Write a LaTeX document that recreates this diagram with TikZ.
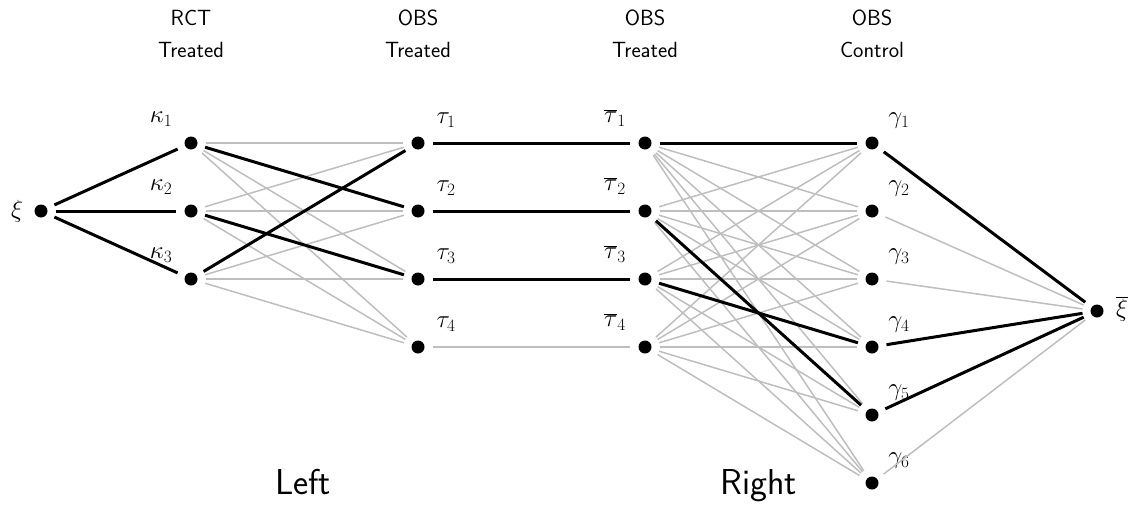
\documentclass[tikz,border=0pt]{standalone}
\begin{document}
\begin{tikzpicture}[x=1pt,y=-1pt,
  vtx/.style={circle, inner sep=0pt, minimum size=29pt,
    path picture={\fill (path picture bounding box.center) circle (6.5pt);}},
  lbl/.style={inner sep=0pt, font=\fontsize{23}{27}\selectfont},
  hdr/.style={anchor=base, inner sep=0pt, font=\sffamily\fontsize{22}{26}\selectfont},
  big/.style={anchor=base, inner sep=0pt, font=\sffamily\fontsize{36}{40}\selectfont},
  ge/.style={draw={rgb,255:red,190;green,190;blue,190}, line width=1.5pt},
  be/.style={draw=black, line width=3pt}]
\useasboundingbox (0,0) rectangle (1134,506);
% vertices
\node[vtx] (xi) at (41,211) {};
\foreach \i in {1,2,3} \node[vtx] (k\i) at (191,{143+68*(\i-1)}) {};
\foreach \i in {1,2,3,4} \node[vtx] (t\i) at (418,{143+68*(\i-1)}) {};
\foreach \i in {1,2,3,4} \node[vtx] (tb\i) at (645,{143+68*(\i-1)}) {};
\foreach \i in {1,...,6} \node[vtx] (g\i) at (872,{143+68*(\i-1)}) {};
\node[vtx] (xb) at (1097,311) {};
% labels
\node[lbl] (lxi) at ([shift={(-24,0)}]xi) {$\xi$};
\node[lbl] (lxb) at ([shift={(25,-2)}]xb) {$\overline{\xi}$};
\foreach \i in {1,2,3} \node[lbl] (lk\i) at ([shift={(-30,-24)}]k\i) {$\kappa_\i$};
\foreach \i in {1,2,3,4} \node[lbl] (lt\i) at ([shift={(28,-23)}]t\i) {$\tau_\i$};
\foreach \i in {1,2,3,4} \node[lbl] (ltb\i) at ([shift={(-30,-25)}]tb\i) {$\overline{\tau}_\i$};
\foreach \i in {1,...,6} \node[lbl] (lg\i) at ([shift={(27,-22)}]g\i) {$\gamma_\i$};
% headers
\node[hdr] (h1a) at (191,25) {RCT};
\node[hdr] (h1b) at (191,57) {Treated};
\node[hdr] (h2a) at (418,25) {OBS};
\node[hdr] (h2b) at (418,57) {Treated};
\node[hdr] (h3a) at (645,25) {OBS};
\node[hdr] (h3b) at (645,57) {Treated};
\node[hdr] (h4a) at (872,25) {OBS};
\node[hdr] (h4b) at (872,57) {Control};
\node[big] (left) at (303,494) {Left};
\node[big] (right) at (759,494) {Right};
% gray edges
\foreach \i in {1,2,3} \foreach \j in {1,2,3,4} \draw[ge] (k\i) -- (t\j);
\foreach \i in {1,2,3,4} \draw[ge] (t\i) -- (tb\i);
\foreach \i in {1,2,3,4} \foreach \j in {1,...,6} \draw[ge] (tb\i) -- (g\j);
\foreach \j in {1,...,6} \draw[ge] (g\j) -- (xb);
% black edges
\foreach \i in {1,2,3} \draw[be] (xi) -- (k\i);
\draw[be] (k1) -- (t2);
\draw[be] (k2) -- (t3);
\draw[be] (k3) -- (t1);
\foreach \i in {1,2,3} \draw[be] (t\i) -- (tb\i);
\draw[be] (tb1) -- (g1);
\draw[be] (tb2) -- (g5);
\draw[be] (tb3) -- (g4);
\draw[be] (g1) -- (xb);
\draw[be] (g4) -- (xb);
\draw[be] (g5) -- (xb);
\end{tikzpicture}
\end{document}
